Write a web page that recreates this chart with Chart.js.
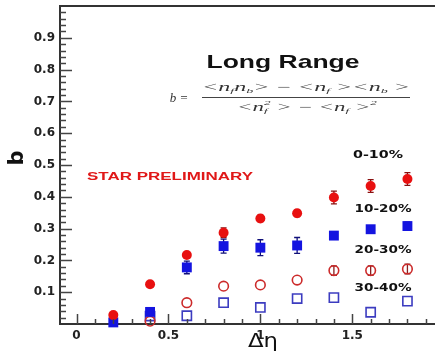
<!DOCTYPE html>
<html>
<head>
<meta charset="utf-8">
<script src="https://cdn.jsdelivr.net/npm/chart.js@4.4.1/dist/chart.umd.min.js"></script>
<style>
    html, body { margin: 0; padding: 0; background: #fff; }
    #wrap { width: 435px; height: 353px; }
</style>
</head>
<body>
<div id="wrap"><canvas id="chart"></canvas></div>
<script>
// delta eta bins
const deltaEta = [0.2, 0.4, 0.6, 0.8, 1.0, 1.2, 1.4, 1.6, 1.8];

// b values per centrality
const b0to10 = [0.028, 0.125, 0.217, 0.287, 0.332, 0.348, 0.398, 0.434, 0.456];
const b10to20 = [0.005, 0.038, 0.178, 0.245, 0.240, 0.247, 0.278, 0.298, 0.308];
const b20to30 = [null, 0.009, 0.067, 0.119, 0.123, 0.138, 0.168, 0.168, 0.173];
const b30to40 = [null, 0.025, 0.026, 0.067, 0.052, 0.080, 0.083, 0.037, 0.072];

// statistical errors
const err0to10 = [0, 0, 0, 0.015, 0.01, 0.01, 0.02, 0.02, 0.02];
const err10to20 = [0, 0, 0.02, 0.022, 0.025, 0.025, 0.012, 0.01, 0.012];
const err20to30 = [0, 0, 0, 0, 0, 0, 0.015, 0.015, 0.015];
const err30to40 = [0, 0, 0, 0, 0, 0, 0, 0, 0];

const centralityLabels = ["0-10%", "10-20%", "20-30%", "30-40%"];
const xTickValues = [0, 0.5, 1, 1.5];
const yTickValues = [0.1, 0.2, 0.3, 0.4, 0.5, 0.6, 0.7, 0.8, 0.9];

function toPoints(ys) {
    return deltaEta.map((x, i) => ({ x: x, y: ys[i] }));
}

function stretchText(ctx, s, x, y, font, color, width) {
    ctx.save();
    ctx.font = font;
    ctx.fillStyle = color;
    ctx.textAlign = "center";
    ctx.textBaseline = "middle";
    const m = ctx.measureText(s).width;
    ctx.translate(x, y);
    if (width) ctx.scale(width / m, 1);
    ctx.fillText(s, 0, 0);
    ctx.restore();
}

// runs: {t, sub, sup}
function drawRuns(ctx, runs, cx, cy, size, width) {
    const main = "italic " + size + "px 'Liberation Serif'";
    const small = "italic " + Math.round(size * 0.62) + "px 'Liberation Serif'";
    ctx.save();
    let total = 0;
    runs.forEach(r => {
        ctx.font = main;
        total += ctx.measureText(r.t).width;
        ctx.font = small;
        total += Math.max(r.sub ? ctx.measureText(r.sub).width : 0, r.sup ? ctx.measureText(r.sup).width : 0);
    });
    ctx.translate(cx, cy);
    ctx.scale(width / total, 1);
    ctx.fillStyle = "#333";
    ctx.textBaseline = "middle";
    ctx.textAlign = "left";
    let x = -total / 2;
    runs.forEach(r => {
        ctx.font = main;
        ctx.fillText(r.t, x, 0);
        x += ctx.measureText(r.t).width;
        ctx.font = small;
        let w = 0;
        if (r.sub) { ctx.fillText(r.sub, x, size * 0.3); w = ctx.measureText(r.sub).width; }
        if (r.sup) { ctx.fillText(r.sup, x, -size * 0.4); w = Math.max(w, ctx.measureText(r.sup).width); }
        x += w;
    });
    ctx.restore();
}

// drop the label overhang padding so the plot box fills the canvas
function noPadding(s) {
    s.paddingTop = 0;
    s.paddingBottom = 0;
    s.paddingLeft = 0;
    s.paddingRight = 0;
}

const seriesErrors = [err0to10, err10to20, err20to30, err30to40];
const errColors = ["#8a1010", "#10107a", "#8a2020", "#303090"];

const decorPlugin = {
    id: "decor",
    beforeDatasetsDraw(chart) {
        const ctx = chart.ctx;
        const xs = chart.scales.x, ys = chart.scales.y;
        ctx.save();
        chart.data.datasets.forEach((ds, di) => {
            const errs = seriesErrors[di];
            ctx.strokeStyle = errColors[di];
            ctx.lineWidth = 1.3;
            ds.data.forEach((p, i) => {
                if (p.y == null || !errs[i]) return;
                const px = xs.getPixelForValue(p.x);
                const top = ys.getPixelForValue(p.y + errs[i]);
                const bot = ys.getPixelForValue(p.y - errs[i]);
                ctx.beginPath();
                ctx.moveTo(px, top); ctx.lineTo(px, bot);
                ctx.moveTo(px - 3, top); ctx.lineTo(px + 3, top);
                ctx.moveTo(px - 3, bot); ctx.lineTo(px + 3, bot);
                ctx.stroke();
            });
        });
        ctx.restore();
    },
    afterDraw(chart) {
        const ctx = chart.ctx;
        const xs = chart.scales.x, ys = chart.scales.y;
        const area = chart.chartArea;
        ctx.save();
        // top frame line
        ctx.strokeStyle = "#333";
        ctx.lineWidth = 2;
        ctx.beginPath();
        ctx.moveTo(area.left - 1, area.top);
        ctx.lineTo(chart.width, area.top);
        ctx.stroke();

        // inward tick marks
        ctx.lineWidth = 1.5;
        ctx.strokeStyle = "#444";
        ctx.beginPath();
        for (let k = 1; k < 50; k++) {
            const v = k * 0.02;
            const py = Math.round(ys.getPixelForValue(v)) + 0.5;
            const len = k % 5 === 0 ? 12 : 6;
            ctx.moveTo(area.left, py);
            ctx.lineTo(area.left + len, py);
        }
        for (let k = 0; k < 20; k++) {
            const v = k * 0.1;
            const px = Math.round(xs.getPixelForValue(v)) + 0.5;
            if (px > chart.width) break;
            const len = k % 5 === 0 ? 10 : 5;
            ctx.moveTo(px, area.bottom);
            ctx.lineTo(px, area.bottom - len);
        }
        ctx.stroke();

        // axis titles
        ctx.save();
        ctx.translate(18, 158);
        ctx.rotate(-Math.PI / 2);
        ctx.font = "bold 21px 'DejaVu Sans'";
        ctx.fillStyle = "#111";
        ctx.textAlign = "center";
        ctx.textBaseline = "middle";
        ctx.fillText("b", 0, 0);
        ctx.restore();
        stretchText(ctx, "\u0394\u03b7", 263, 342, "20px 'DejaVu Sans'", "#111", 30);

        // annotations
        stretchText(ctx, "Long Range", 283, 63, "bold 19px 'Liberation Sans'", "#111", 153);
        stretchText(ctx, "STAR PRELIMINARY", 170, 177, "bold 11px 'Liberation Sans'", "#e01818", 166);
        const labelPos = [[378, 155], [383, 209], [383, 250], [383, 288]];
        centralityLabels.forEach((s, i) => {
            stretchText(ctx, s, labelPos[i][0], labelPos[i][1], "bold 11px 'DejaVu Sans'", "#111", s.length === 5 ? 50 : 57);
        });

        // formula
        ctx.font = "italic 13px 'Liberation Serif'";
        ctx.fillStyle = "#333";
        ctx.textAlign = "center";
        ctx.textBaseline = "middle";
        ctx.fillText("b =", 179, 99);
        drawRuns(ctx, [
            { t: "<n", sub: "f" }, { t: "n", sub: "b" }, { t: "> \u2212 <n", sub: "f" },
            { t: " ><n", sub: "b" }, { t: " >" }
        ], 306, 88, 12, 208);
        drawRuns(ctx, [
            { t: "<n", sub: "f", sup: "2" }, { t: " > \u2212 <n", sub: "f" }, { t: " >", sup: "2" }
        ], 307, 108, 12, 140);
        ctx.strokeStyle = "#444";
        ctx.lineWidth = 1;
        ctx.beginPath();
        ctx.moveTo(202, 97.5);
        ctx.lineTo(410, 97.5);
        ctx.stroke();
        ctx.restore();
    }
};

const tickFont = { family: "'DejaVu Sans'", size: 12, weight: "bold" };

new Chart(document.getElementById("chart").getContext("2d"), {
    type: "scatter",
    data: {
        datasets: [
            {
                label: centralityLabels[0],
                data: toPoints(b0to10),
                pointStyle: "circle",
                pointRadius: 5,
                backgroundColor: "#e81010",
                borderColor: "#e81010",
                borderWidth: 0,
                clip: false
            },
            {
                label: centralityLabels[1],
                data: toPoints(b10to20),
                pointStyle: "rect",
                pointRadius: 7,
                backgroundColor: "#1414e0",
                borderColor: "#1414e0",
                borderWidth: 0,
                clip: false
            },
            {
                label: centralityLabels[2],
                data: toPoints(b20to30),
                pointStyle: "circle",
                pointRadius: 4.8,
                backgroundColor: "rgba(255,255,255,0)",
                borderColor: "#cc2a2a",
                borderWidth: 1.6,
                clip: false
            },
            {
                label: centralityLabels[3],
                data: toPoints(b30to40),
                pointStyle: "rect",
                pointRadius: 6.5,
                backgroundColor: "rgba(255,255,255,0)",
                borderColor: "#3c3cc0",
                borderWidth: 1.6,
                clip: false
            }
        ]
    },
    options: {
        responsive: true,
        maintainAspectRatio: false,
        animation: false,
        layout: { autoPadding: false, padding: { top: 6, right: 0, left: 0, bottom: 0 } },
        plugins: {
            legend: { display: false },
            tooltip: { enabled: false }
        },
        scales: {
            x: {
                type: "linear",
                min: -0.09,
                max: 1.95,
                afterBuildTicks: s => { s.ticks = xTickValues.map(v => ({ value: v })); },
                afterFit: s => { s.height = 29; noPadding(s); },
                grid: { display: false, drawTicks: false },
                border: { display: true, color: "#333", width: 2 },
                ticks: {
                    font: tickFont,
                    color: "#222",
                    padding: 5,
                    maxRotation: 0,
                    autoSkip: false,
                    callback: v => String(v)
                }
            },
            y: {
                type: "linear",
                min: 0,
                max: 1,
                afterBuildTicks: s => { s.ticks = yTickValues.map(v => ({ value: v })); },
                afterFit: s => { s.width = 60; noPadding(s); },
                grid: { display: false, drawTicks: false },
                border: { display: true, color: "#333", width: 2 },
                ticks: {
                    font: tickFont,
                    color: "#222",
                    padding: 5,
                    autoSkip: false,
                    callback: v => v.toFixed(1)
                }
            }
        }
    },
    plugins: [decorPlugin]
});
</script>
</body>
</html>
